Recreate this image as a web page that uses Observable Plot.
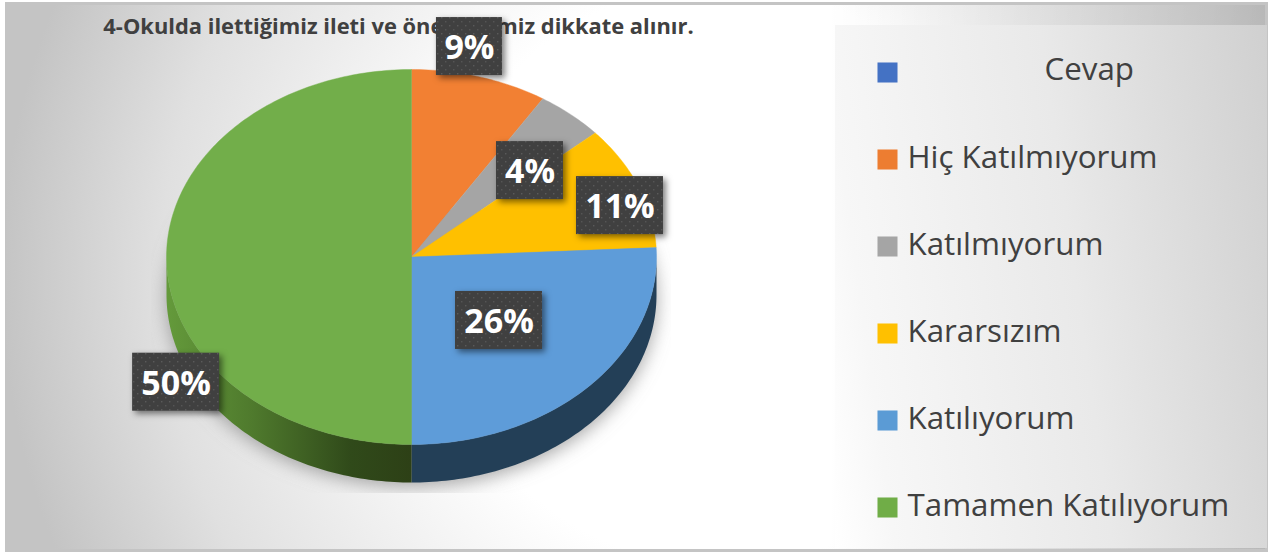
<!DOCTYPE html>
<html lang="tr">
<head>
<meta charset="utf-8">
<script src="https://cdn.jsdelivr.net/npm/d3@7"></script>
<script src="https://cdn.jsdelivr.net/npm/@observablehq/plot@0.6"></script>
<style>
  html, body { margin: 0; padding: 0; background: #fff; }
  #chart { position: relative; width: 1271px; height: 554px; overflow: hidden; background: #fff; }
  #bg { position: absolute; left: 5px; top: 2px; width: 1263px; height: 550px; box-sizing: border-box;
        border: 1px solid #c4c4c4; border-width: 3px 3px 3px 1px;
        background:
          linear-gradient(to right, rgba(0,0,0,0) 820px, rgba(0,0,0,0.15) 100%),
          radial-gradient(circle at 715px 270px, #fff 0, #fff 290px, #e0e0e0 560px, #c4c4c4 720px); }
  #panel { position: absolute; left: 835px; top: 25px; width: 432px; height: 523px;
        background: linear-gradient(82deg, #fff 0, #f7f7f7 12%, #e9e9e9 55%, #d0d0d0 100%); }
  #main, #legend { position: absolute; }
  #main { left: 0; top: 0; }
  #legend { left: 835px; top: 25px; }
</style>
</head>
<body>
<div id="chart"><div id="bg"></div><div id="panel"></div><div id="main"></div><div id="legend"></div></div>
<script>
const titleText = "4-Okulda ilettiğimiz ileti ve önerilerimiz dikkate alınır.";
const legendCategories = ["Cevap", "Hiç Katılmıyorum", "Katılmıyorum", "Kararsızım", "Katılıyorum", "Tamamen Katılıyorum"];
const legendColors = ["#4472c4", "#ed7d31", "#a5a5a5", "#ffc000", "#5b9bd5", "#70ad47"];
const sliceColors = ["#4472c4", "#f28033", "#a5a5a5", "#ffc000", "#5e9cd9", "#72ae4a"];
const sliceNames = ["Hiç Katılmıyorum", "Katılmıyorum", "Kararsızım", "Katılıyorum", "Tamamen Katılıyorum"];
const sliceValues = [9, 4.49, 10.71, 25.8, 50];
// label placement relative to each slice: radial factor and angular nudge
const labelRadius = [1.147, 0.668, 0.894, 0.492, 1.17];
const labelNudge = [-4.3, 5.9, 4.3, -0.1, -34.8];
const labelWidth = [66, 67, 87, 87, 87];
const labelHeight = 58;

const W = 1271, H = 554;
const cx = 411, cy = 256.5, rx = 245, ry = 187.5, depth = 38;
const px = (deg) => cx + rx * Math.sin(deg * Math.PI / 180);
const py = (deg, off = 0) => cy - ry * Math.cos(deg * Math.PI / 180) + off;
const arc = (a0, a1, off = 0) => {
  const pts = [], n = Math.max(2, Math.ceil(Math.abs(a1 - a0)));
  for (let i = 0; i <= n; ++i) { const a = a0 + (a1 - a0) * i / n; pts.push({x: px(a), y: py(a, off)}); }
  return pts;
};

const total = d3.sum(sliceValues);
let acc = 0;
const slices = sliceNames.map((name, i) => {
  const a0 = acc / total * 360; acc += sliceValues[i];
  const a1 = acc / total * 360;
  const mid = (a0 + a1) / 2 + labelNudge[i];
  const lx = cx + rx * labelRadius[i] * Math.sin(mid * Math.PI / 180);
  const ly = cy - ry * labelRadius[i] * Math.cos(mid * Math.PI / 180);
  return {name, value: sliceValues[i], a0, a1, lx, ly, w: labelWidth[i], label: Math.round(sliceValues[i]) + "%"};
});
const slicePts = slices.flatMap(s => [{x: cx, y: cy}, ...arc(s.a0, s.a1), {x: cx, y: cy}].map(p => ({...p, name: s.name})));
const sidePts = (a0, a1) => [...arc(a0, a1), ...arc(a1, a0, depth)];
const shadowPts = arc(0, 360, depth + 4);

const defs = () => {
  const d = d3.create("svg:defs");
  d.html(`
    <linearGradient id="greenSide" gradientUnits="userSpaceOnUse" x1="166" x2="411" y1="0" y2="0">
      <stop offset="0" stop-color="#649a3b"/><stop offset="0.35" stop-color="#4f7a2d"/>
      <stop offset="0.75" stop-color="#304a1a"/><stop offset="1" stop-color="#2d4016"/>
    </linearGradient>
    <pattern id="dots" patternUnits="userSpaceOnUse" width="8" height="8">
      <rect width="8" height="8" fill="#404040"/>
      <rect x="1" y="1" width="1.4" height="1.4" fill="#5a5a5a"/>
      <rect x="5" y="5" width="1.4" height="1.4" fill="#555"/>
    </pattern>
    <filter id="pieShadow" filterUnits="userSpaceOnUse" x="151" y="210" width="519" height="282">
      <feGaussianBlur stdDeviation="9"/>
    </filter>`);
  return d.node();
};

const main = Plot.plot({
  width: W, height: H, margin: 0,
  style: {background: "transparent"},
  x: {domain: [0, W], range: [0, W], axis: null},
  y: {domain: [0, H], range: [0, H], axis: null},
  color: {domain: legendCategories, range: sliceColors},
  marks: [
    defs,
    Plot.line(shadowPts, {x: "x", y: "y", fill: "#8a8a8a", fillOpacity: 0.75, stroke: "none", imageFilter: "url(#pieShadow)"}),
    Plot.line(sidePts(90, 180), {x: "x", y: "y", fill: "#233f57", stroke: "none"}),
    Plot.line(sidePts(180, 270), {x: "x", y: "y", fill: "url(#greenSide)", stroke: "none"}),
    Plot.line(slicePts, {x: "x", y: "y", z: "name", fill: "name", stroke: "name", strokeWidth: 0.4}),
    Plot.text([titleText], {x: () => 398, y: () => 26, text: d => d, fontFamily: "Open Sans", fontWeight: 700, fontSize: 21.9, fill: "#404040"}),
    Plot.rect(slices, {x1: d => d.lx - d.w / 2, x2: d => d.lx + d.w / 2, y1: d => d.ly - labelHeight / 2, y2: d => d.ly + labelHeight / 2,
      fill: "url(#dots)", imageFilter: "drop-shadow(3px 3px 3px rgba(0,0,0,0.5))"}),
    Plot.text(slices, {x: "lx", y: "ly", dy: 2, text: "label", fill: "#fff", fontFamily: "Open Sans", fontWeight: 700, fontSize: 34})
  ]
});
document.getElementById("main").append(main);

const legend = Plot.plot({
  width: 432, height: 523, margin: 0,
  style: {background: "transparent"},
  x: {axis: null},
  y: {type: "point", domain: legendCategories, range: [45, 483], padding: 0, axis: null},
  color: {domain: legendCategories, range: legendColors},
  marks: [
    Plot.dot(legendCategories, {y: d => d, frameAnchor: "left", dx: 52, symbol: "square", r: 11.3, fill: d => d, stroke: "none"}),
    Plot.text(legendCategories.slice(1), {y: d => d, text: d => d, frameAnchor: "left", dx: 72, dy: -1.5, textAnchor: "start", fontFamily: "Open Sans", fontSize: 31.3, fill: "#404040"}),
    Plot.text(legendCategories.slice(0, 1), {y: d => d, text: d => d, frameAnchor: "left", dx: 209, dy: -2.5, textAnchor: "start", fontFamily: "Open Sans", fontSize: 31.3, fill: "#404040"})
  ]
});
document.getElementById("legend").append(legend);
</script>
</body>
</html>
